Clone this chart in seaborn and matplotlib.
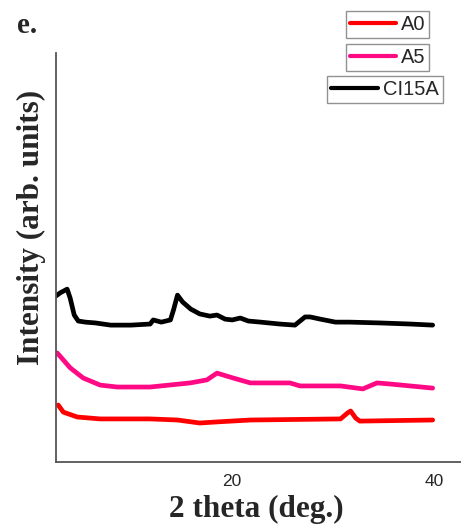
import matplotlib
matplotlib.use("Agg")
import matplotlib.pyplot as plt
from matplotlib.lines import Line2D
import seaborn as sns
import pandas as pd

# ---- data ----
ci15a_x = [2.6, 3.0, 3.7, 4.0, 4.4, 4.8, 5.5, 6.5, 8.0, 10.0, 11.9, 12.2, 13.0, 13.9, 14.2, 14.6,
           15.1, 15.9, 16.8, 17.8, 18.5, 19.3, 20.0, 20.8, 21.6, 22.8, 24.7, 26.2, 26.7, 27.2,
           27.7, 28.7, 30.2, 31.6, 34.6, 37.6, 39.8]
ci15a_y = [6.09, 6.20, 6.34, 6.01, 5.39, 5.17, 5.13, 5.10, 5.02, 5.02, 5.06, 5.21, 5.13, 5.21, 5.57, 6.12,
           5.87, 5.61, 5.43, 5.35, 5.39, 5.24, 5.21, 5.28, 5.17, 5.13, 5.06, 5.02, 5.17, 5.32,
           5.32, 5.24, 5.13, 5.13, 5.10, 5.06, 5.02]

a5_x = [2.72, 4.01, 5.29, 6.97, 8.65, 11.9, 15.85, 17.5, 18.5, 20.1, 21.8, 25.7, 26.7, 30.7, 32.9, 34.3, 35.6, 39.8]
a5_y = [4.00, 3.45, 3.08, 2.82, 2.75, 2.75, 2.90, 3.01, 3.26, 3.08, 2.90, 2.90, 2.79, 2.79, 2.68, 2.90, 2.86, 2.71]

a0_x = [2.82, 3.32, 4.70, 6.97, 11.9, 14.6, 16.8, 18.5, 21.8, 30.7, 31.4, 31.7, 32.2, 32.6, 39.8]
a0_y = [2.09, 1.83, 1.65, 1.58, 1.58, 1.54, 1.43, 1.47, 1.54, 1.58, 1.80, 1.87, 1.61, 1.50, 1.54]

series_names = ["A0", "A5", "CI15A"]
series_colors = ["#FF0000", "#FF0A84", "#000000"]

df = pd.concat([
    pd.DataFrame({"x": a0_x, "y": a0_y, "s": "A0"}),
    pd.DataFrame({"x": a5_x, "y": a5_y, "s": "A5"}),
    pd.DataFrame({"x": ci15a_x, "y": ci15a_y, "s": "CI15A"}),
])

sns.set_style("white")
W, H = 461, 527
fig = plt.figure(figsize=(W / 100, H / 100), dpi=100)
ax = fig.add_axes([56 / W, (H - 462) / H, (W - 56) / W, (462 - 53) / H])

sns.lineplot(data=df, x="x", y="y", hue="s", palette=dict(zip(series_names, series_colors)),
             linewidth=3.4, ax=ax, legend=False, estimator=None, sort=False)

ax.set_xlim(2.6, 42.6)
ax.set_ylim(0, 15)
ax.set_xticks([10, 20, 30, 40])
ax.set_xticklabels(["", "20", "", "40"], family="Liberation Sans", fontsize=12.5)
ax.set_yticks(range(1, 15))
ax.set_yticklabels([])
ax.tick_params(axis="x", direction="out", length=4, width=1.2, color="#333333", pad=5)
ax.tick_params(axis="y", direction="in", length=2.5, width=1, color="#555555")
for side in ["top", "right"]:
    ax.spines[side].set_visible(False)
for side in ["left", "bottom"]:
    ax.spines[side].set_color("#555555")
    ax.spines[side].set_linewidth(1.3)

ax.set_xlabel("2 theta (deg.)", family="Liberation Serif", fontweight="bold", fontsize=22.5)
ax.set_ylabel("Intensity (arb. units)", family="Liberation Serif", fontweight="bold", fontsize=22.5)
ax.xaxis.set_label_coords((256 - 56) / (W - 56), -(495 - 462) / (462 - 53))
ax.yaxis.set_label_coords(-(56 - 46) / (W - 56), (462 - 227) / (462 - 53))

fig.text(17 / W, 1 - 33 / H, "e.", family="Liberation Serif", fontweight="bold", fontsize=21)

legend_tops = [11, 44, 76]
legend_cx = [387.5, 387.5, 385]
for name, col, top, cx in zip(series_names, series_colors, legend_tops, legend_cx):
    h = Line2D([0], [0], color=col, linewidth=3)
    leg = fig.legend([h], [name], loc="upper center", bbox_to_anchor=(cx / W, 1 - top / H),
                     frameon=True, fancybox=False, borderpad=0.2,
                     handlelength=2.3, handletextpad=0.25, borderaxespad=0,
                     prop={"family": "Liberation Sans", "size": 14.5})
    leg.get_frame().set_edgecolor("#777777")
    leg.get_frame().set_linewidth(1.0)

fig.savefig("out.png", dpi=100)
